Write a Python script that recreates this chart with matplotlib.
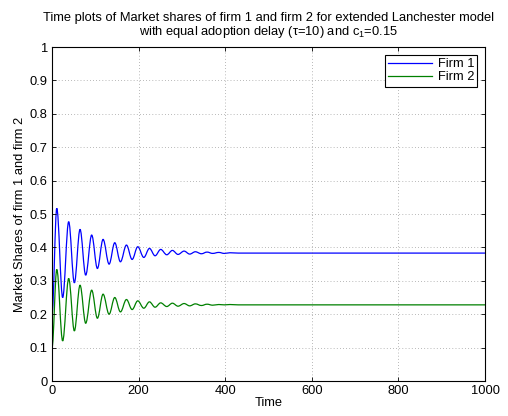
"""Market share time plots for the extended Lanchester model."""

import matplotlib

matplotlib.use("Agg")

import matplotlib.pyplot as plt
from matplotlib.path import Path
from matplotlib.patches import PathPatch
from matplotlib.lines import Line2D

plt.rcParams["font.family"] = ["Liberation Sans", "DejaVu Sans"]

# turning points (peaks / troughs)
time_points = [0, 11, 24.6, 38.5, 51.6, 64.7, 77.8, 91.6, 104.8, 117.9, 131.8,
               144.9, 158, 171.9, 185, 198, 212, 225, 238, 251, 265, 278, 291,
               305, 318, 331, 345, 358, 371, 385, 398, 411, 430, 1000]
firm1_share = [0.2, 0.517, 0.25, 0.477, 0.294, 0.454, 0.317, 0.437, 0.337, 0.424,
               0.35, 0.414, 0.357, 0.407, 0.364, 0.402, 0.37, 0.397, 0.375, 0.394,
               0.378, 0.391, 0.379, 0.389, 0.380, 0.387, 0.381, 0.386, 0.382,
               0.385, 0.382, 0.384, 0.383, 0.383]
firm2_share = [0.1, 0.334, 0.12, 0.307, 0.15, 0.287, 0.173, 0.272, 0.188, 0.26,
               0.2, 0.25, 0.207, 0.244, 0.214, 0.24, 0.218, 0.237, 0.221, 0.234,
               0.223, 0.233, 0.224, 0.232, 0.225, 0.231, 0.226, 0.230, 0.227,
               0.229, 0.228, 0.229, 0.228, 0.228]
series_names = ["Firm 1", "Firm 2"]
series_colors = ["#0000ff", "#008000"]
FS = 9.3


def smooth_path(xs, ys, k=0.36):
    # cubic segments with flat tangents at each turning point
    verts = [(xs[0], ys[0])]
    codes = [Path.MOVETO]
    for x0, y0, x1, y1 in zip(xs[:-1], ys[:-1], xs[1:], ys[1:]):
        dx = min(x1 - x0, 14.0)
        verts += [(x0 + k * dx, y0), (x1 - k * dx, y1), (x1, y1)]
        codes += [Path.CURVE4] * 3
    return Path(verts, codes)


fig = plt.figure(figsize=(5.08, 4.16), dpi=100)
ax = fig.add_axes([0.1024, 0.0841, 0.8524, 0.8029])

for ys, color in zip([firm1_share, firm2_share], series_colors):
    patch = PathPatch(smooth_path(time_points, ys), facecolor="none",
                      edgecolor=color, linewidth=0.9, transform=ax.transData)
    ax.add_patch(patch)

ax.set_xlim(0, 1000)
ax.set_ylim(0, 1)
ax.set_xticks(range(0, 1001, 200))
ax.set_yticks([i / 10 for i in range(11)])
ax.set_yticklabels(["0", "0.1", "0.2", "0.3", "0.4", "0.5", "0.6", "0.7",
                    "0.8", "0.9", "1"])
ax.tick_params(direction="in", top=True, right=True, labelsize=FS,
               length=3, width=0.6, pad=3)
ax.grid(True, linestyle=(0, (1, 3.5)), color="#555555", linewidth=0.5, alpha=0.8)
for sp in ax.spines.values():
    sp.set_linewidth(0.8)

ax.set_xlabel("Time", fontsize=FS, labelpad=0)
ax.set_ylabel("Market Shares of firm 1 and firm 2", fontsize=FS, labelpad=3)
ax.set_title("Time plots of Market shares of firm 1 and firm 2 for extended Lanchester model\n"
             "with equal adoption delay (\u03c4=10) and c$\\mathregular{_1}$=0.15",
             fontsize=FS, pad=9, linespacing=0.95)

handles = [Line2D([], [], color=c, linewidth=0.9) for c in series_colors]
leg = ax.legend(handles, series_names, loc="upper right", fontsize=FS,
                fancybox=False, framealpha=1, edgecolor="black",
                handlelength=3.4, borderpad=0.25, labelspacing=0.1,
                handletextpad=0.4, borderaxespad=0.6)
leg.get_frame().set_linewidth(0.8)

fig.savefig("out.png", dpi=100)
